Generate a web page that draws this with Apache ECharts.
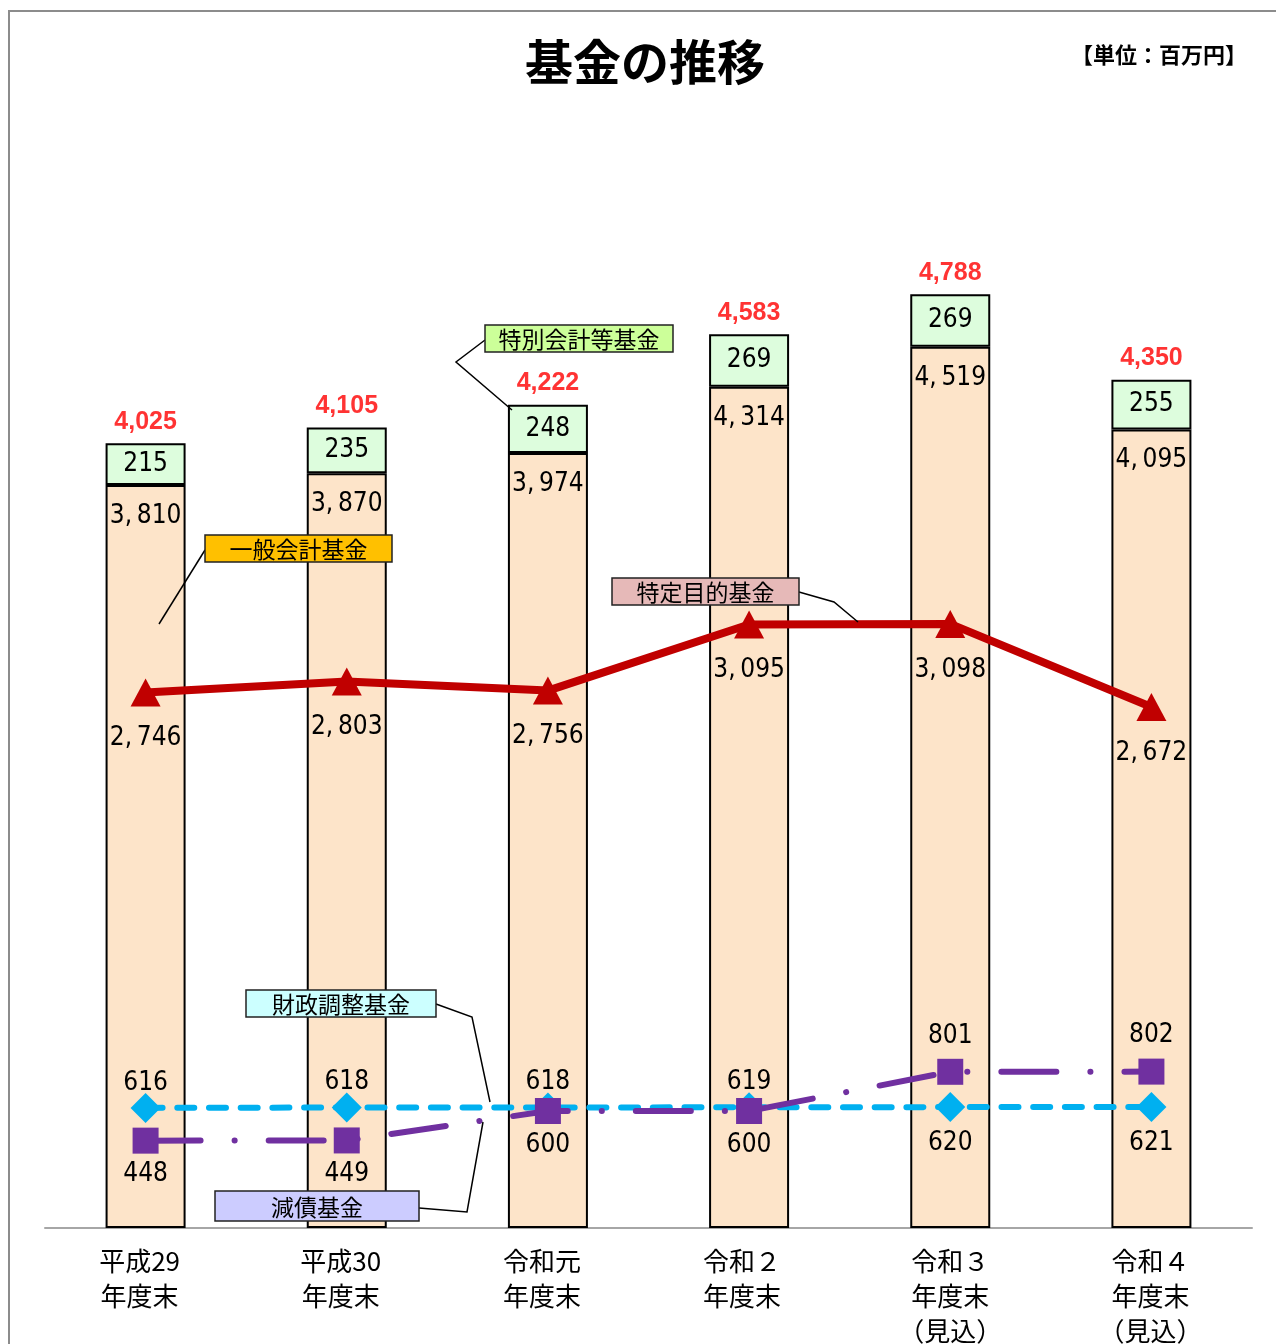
<!DOCTYPE html>
<html><head><meta charset="utf-8">
<script src="https://cdn.jsdelivr.net/npm/echarts@6/dist/echarts.min.js"></script>
<style>html,body{margin:0;padding:0;background:#fff;overflow:hidden}#c{width:1276px;height:1344px}</style>
</head><body><div id="c"></div>
<script>
// ---- data ----
const categories = ['平成29\n年度末','平成30\n年度末','令和元\n年度末','令和２\n年度末','令和３\n年度末\n（見込）','令和４\n年度末\n（見込）'];
const generalFund = [3810, 3870, 3974, 4314, 4519, 4095];      // 一般会計基金
const specialFund = [215, 235, 248, 269, 269, 255];            // 特別会計等基金
const totals = [4025, 4105, 4222, 4583, 4788, 4350];           // 合計
const specificPurpose = [2746, 2803, 2756, 3095, 3098, 2672];  // 特定目的基金
const fiscalAdjust = [616, 618, 618, 619, 620, 621];           // 財政調整基金
const debtReduction = [448, 449, 600, 600, 801, 802];          // 減債基金

// ---- label placement (style only) ----
const fiscalLabelPos = ['top','top','top','top','bottom','bottom'];
const debtLabelPos = ['bottom','bottom','bottom','bottom','top','top'];
const catLabelPadRight = [12, 12, 12, 14, 0, 2];

const CJK = "'Noto Sans CJK JP', sans-serif";
const NUM = "'DejaVu Sans Condensed', 'Noto Sans CJK JP', sans-serif";
const fmtSpace = v => Number(v).toLocaleString('en-US').replace(',', ',\u2009');
const numLabel = (extra) => Object.assign({show:true, color:'#000', fontFamily:NUM, fontSize:26}, extra);
const posDist = p => (p === 'top' ? -3 : 8);
const posDistDebt = p => (p === 'top' ? 10 : 8);

function callout(x, y, w, h, fill, text) {
  return [
    {type:'rect', z:100, shape:{x:x, y:y, width:w, height:h}, style:{fill:fill, stroke:'#222', lineWidth:1.5}},
    {type:'text', z:101, x:x + w/2, y:y + h/2 + 1, style:{text:text, fill:'#000', fontSize:23, fontFamily:CJK, align:'center', verticalAlign:'middle', textAlign:'center', textVerticalAlign:'middle'}}
  ];
}
function leader(points) {
  return {type:'polyline', z:99, shape:{points:points}, style:{stroke:'#000', lineWidth:1.5, fill:null}};
}

const graphic = [
  {type:'polyline', z:1, shape:{points:[[9,1344],[9,11],[1276,11]]}, style:{stroke:'#8c8c8c', lineWidth:2, fill:null}},
  {type:'text', z:10, x:645, y:62, style:{text:'基金の推移', fill:'#000', fontSize:48, fontWeight:'bold', fontFamily:CJK, align:'center', verticalAlign:'middle', textAlign:'center', textVerticalAlign:'middle'}},
  {type:'text', z:10, x:1247, y:55, style:{text:'【単位：百万円】', fill:'#000', fontSize:22, fontWeight:'bold', fontFamily:CJK, align:'right', verticalAlign:'middle', textAlign:'right', textVerticalAlign:'middle'}},
  leader([[485,340],[456,362],[512,410]]),
  ...callout(485, 325, 188, 27, '#CCFF99', '特別会計等基金'),
  leader([[205,550],[159,624]]),
  ...callout(205, 535, 187, 27, '#FFC000', '一般会計基金'),
  leader([[799,592],[834,602],[858,622]]),
  ...callout(612, 578, 187, 27, '#E6B9B8', '特定目的基金'),
  leader([[436,1004],[472,1017],[490,1102]]),
  ...callout(246, 990, 190, 27, '#CCFFFF', '財政調整基金'),
  leader([[419,1208],[467,1212],[483,1122]]),
  ...callout(215, 1191, 204, 30, '#CCCCFF', '減債基金')
];

const chart = echarts.init(document.getElementById('c'), null, {renderer:'canvas', width:1276, height:1344});
chart.setOption({
  backgroundColor:'#fff',
  animation:false,
  grid:{left:45, right:24, top:253, height:975, containLabel:false, outerBoundsMode:'none'},
  xAxis:{
    type:'category',
    data:categories.map((c,i)=>({value:c, textStyle:{padding:[0, catLabelPadRight[i], 0, 0]}})),
    axisLine:{show:true, lineStyle:{color:'#a6a6a6', width:2}},
    axisTick:{show:false},
    axisLabel:{color:'#000', fontSize:26, fontFamily:CJK, lineHeight:35, margin:16, interval:0}
  },
  yAxis:{type:'value', min:0, max:5000, show:false, splitLine:{show:false}},
  graphic: graphic,
  series:[
    {name:'一般会計基金', type:'bar', stack:'fund', barWidth:80, data:generalFund, z:2,
     itemStyle:{color:'#FDE4C9', borderColor:'#000', borderWidth:2},
     label:numLabel({position:'insideTop', distance:18, formatter:p => fmtSpace(p.value)})},
    {name:'特別会計等基金', type:'bar', stack:'fund', barWidth:80, data:specialFund, z:2,
     itemStyle:{color:'#DDFDDD', borderColor:'#000', borderWidth:2},
     label:numLabel({position:'inside', formatter:p => String(p.value)})},
    {name:'合計', type:'scatter', data:totals, symbolSize:0, z:3,
     itemStyle:{color:'rgba(0,0,0,0)'},
     label:{show:true, position:'top', distance:9, color:'#FF0000', fontFamily:"'Liberation Sans', Arial, sans-serif", fontWeight:'bold', fontSize:25, formatter:p => Number(p.value).toLocaleString('en-US')}},
    {name:'財政調整基金', type:'line', z:5,
     data:fiscalAdjust.map((v,i)=>({value:v, label:{position:fiscalLabelPos[i], distance:posDist(fiscalLabelPos[i])}})),
     symbol:'diamond', symbolSize:30, itemStyle:{color:'#00B0F0'},
     lineStyle:{color:'#00B0F0', width:6, type:[17,14.7], cap:'round'},
     label:numLabel({formatter:p => fmtSpace(p.value)})},
    {name:'減債基金', type:'line', z:6,
     data:debtReduction.map((v,i)=>({value:v, label:{position:debtLabelPos[i], distance:posDistDebt(debtLabelPos[i])}})),
     symbol:'rect', symbolSize:26, itemStyle:{color:'#7030A0'},
     lineStyle:{color:'#7030A0', width:6, type:[55,34,0.1,34], cap:'round'},
     label:numLabel({formatter:p => fmtSpace(p.value)})},
    {name:'特定目的基金', type:'line', data:specificPurpose, z:7,
     symbol:'triangle', symbolSize:[30,28], itemStyle:{color:'#C00000'},
     lineStyle:{color:'#C00000', width:8},
     label:numLabel({position:'bottom', distance:19, formatter:p => fmtSpace(p.value)})}
  ]
});
</script>
</body></html>
